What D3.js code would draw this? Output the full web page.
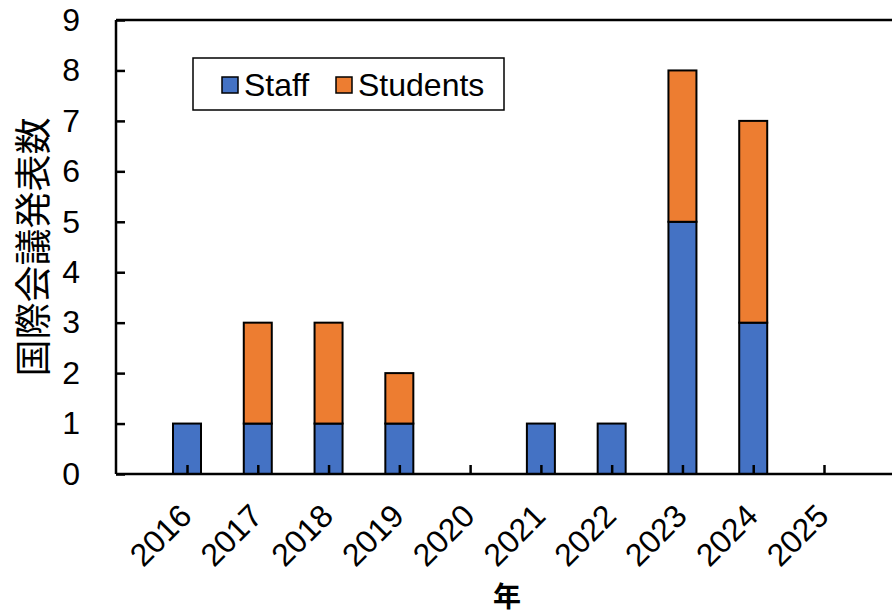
<!DOCTYPE html>
<html><head><meta charset="utf-8">
<script src="https://cdn.jsdelivr.net/npm/d3@7"></script>
<style>html,body{margin:0;padding:0;background:#fff;}svg{display:block;}</style>
</head><body>
<script>
const years = ["2016","2017","2018","2019","2020","2021","2022","2023","2024","2025"];
const staff = [1,1,1,1,0,1,1,5,3,0];
const students = [0,2,2,1,0,0,0,3,4,0];
const seriesNames = ["Staff","Students"];
const seriesColors = ["#4472C4","#ED7D31"];
const yTicks = [0,1,2,3,4,5,6,7,8,9];
const yTitle = "国際会議発表数";
const xTitle = "年";

const W = 892, H = 615;
const L = 116, T = 20, B = 474, R = 895;
const svg = d3.select("body").append("svg").attr("width", W).attr("height", H);
const latin = "'Liberation Sans', Arial, sans-serif";
const cjk = "'Noto Sans CJK JP', sans-serif";

const x = d3.scalePoint().domain(years).range([187, 824]);
const y = d3.scaleLinear().domain([0, 9]).range([B, T]);

const data = years.map((yr, i) => ({year: yr, Staff: staff[i], Students: students[i]}));
const stack = d3.stack().keys(seriesNames)(data);
const bw = 28;

stack.forEach((s, k) => {
  svg.append("g").selectAll("rect").data(s).join("rect")
    .filter(d => d[1] - d[0] > 0)
    .attr("x", d => x(d.data.year) - bw/2)
    .attr("y", d => y(d[1]))
    .attr("width", bw)
    .attr("height", d => y(d[0]) - y(d[1]))
    .attr("fill", seriesColors[k])
    .attr("stroke", "#000").attr("stroke-width", 2);
});

// top frame line
svg.append("line").attr("x1", L).attr("x2", R).attr("y1", T).attr("y2", T)
  .attr("stroke", "#000").attr("stroke-width", 2.5);

// y axis
const yAxis = d3.axisLeft(y).tickValues(yTicks).tickSize(-9).tickPadding(36).tickFormat(d3.format("d"));
const gy = svg.append("g").attr("transform", `translate(${L},0)`).call(yAxis);
gy.select(".domain").attr("stroke", "#000").attr("stroke-width", 2.5).attr("d", `M0,${T}V${B}`);
gy.selectAll(".tick line").attr("stroke", "#000").attr("stroke-width", 2.5);
gy.selectAll(".tick text").attr("font-family", latin).attr("font-size", 32).attr("fill", "#000");

// x axis
const xAxis = d3.axisBottom(x).tickSize(-9).tickFormat(d => d);
const gx = svg.append("g").attr("transform", `translate(0,${B})`).call(xAxis);
gx.select(".domain").attr("stroke", "#000").attr("stroke-width", 2.5).attr("d", `M${L},0H${R}`);
gx.selectAll(".tick line").attr("stroke", "#000").attr("stroke-width", 2.5);
gx.selectAll(".tick text")
  .attr("font-family", latin).attr("font-size", 32).attr("fill", "#000")
  .attr("text-anchor", "end").attr("dy", null).attr("y", null)
  .attr("transform", "translate(6,44) rotate(-45)");

// axis titles
svg.append("text").attr("transform", "translate(31,247) rotate(-90)")
  .attr("text-anchor", "middle").attr("dominant-baseline", "central")
  .attr("font-family", cjk).attr("font-size", 37).attr("fill", "#000").text(yTitle);
svg.append("text").attr("x", 507).attr("y", 595)
  .attr("text-anchor", "middle").attr("dominant-baseline", "central")
  .attr("font-family", cjk).attr("font-weight", "bold").attr("font-size", 28).attr("fill", "#000").text(xTitle);

// legend
const lg = svg.append("g");
lg.append("rect").attr("x", 193).attr("y", 58).attr("width", 311).attr("height", 52)
  .attr("fill", "#fff").attr("stroke", "#000").attr("stroke-width", 1.5);
const legX = [222, 336];
seriesNames.forEach((n, i) => {
  lg.append("rect").attr("x", legX[i]).attr("y", 77).attr("width", 16).attr("height", 16)
    .attr("fill", seriesColors[i]).attr("stroke", "#000").attr("stroke-width", 1.5);
  lg.append("text").attr("x", legX[i] + 22).attr("y", 85).attr("dominant-baseline", "central")
    .attr("font-family", latin).attr("font-size", 32).attr("fill", "#000").text(n);
});
</script>
</body></html>
